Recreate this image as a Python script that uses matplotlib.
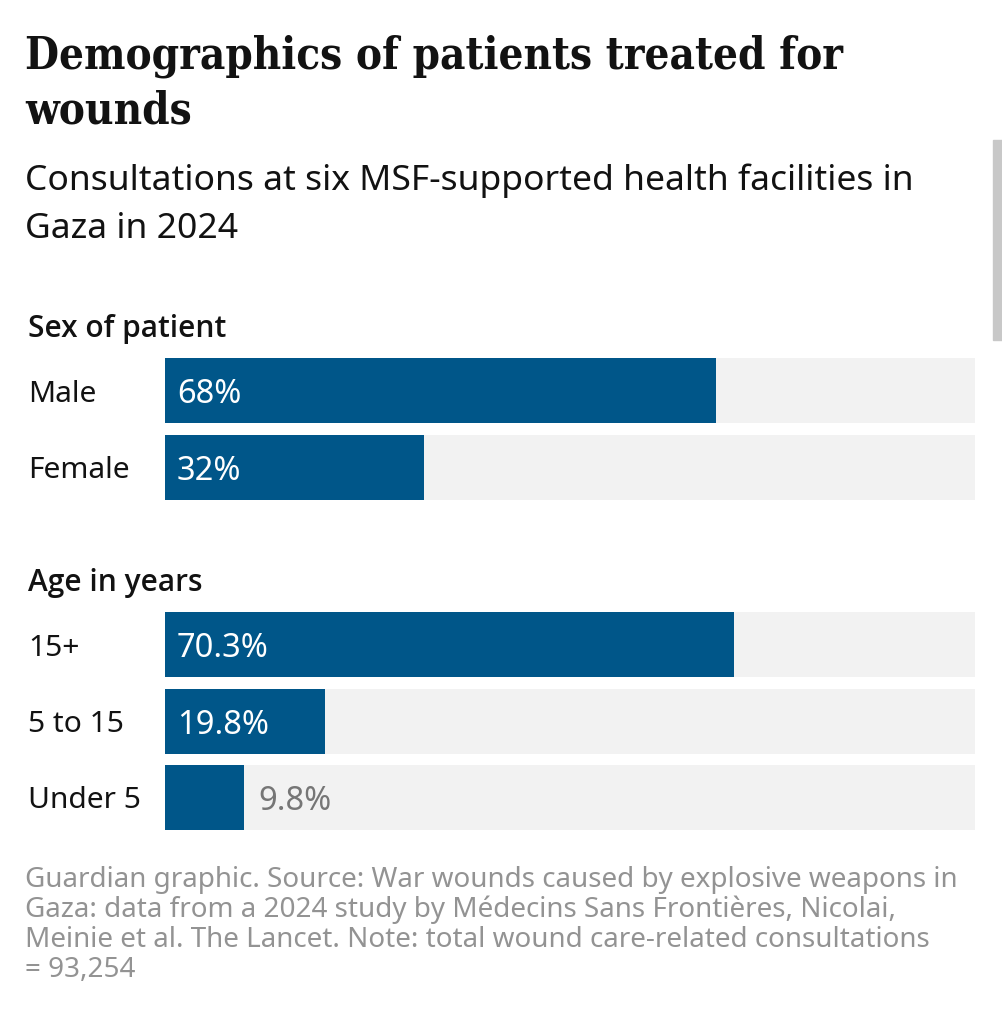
import matplotlib
matplotlib.use("Agg")
import matplotlib.pyplot as plt
from matplotlib.patches import Rectangle

title_lines = ["Demographics of patients treated for", "wounds"]
subtitle_lines = ["Consultations at six MSF-supported health facilities in",
                  "Gaza in 2024"]
footer_lines = [
    "Guardian graphic. Source: War wounds caused by explosive weapons in",
    "Gaza: data from a 2024 study by Médecins Sans Frontières, Nicolai,",
    "Meinie et al. The Lancet. Note: total wound care-related consultations",
    "= 93,254",
]

sex_title = "Sex of patient"
sex_labels = ["Male", "Female"]
sex_values = [68, 32]
sex_text = ["68%", "32%"]

age_title = "Age in years"
age_labels = ["15+", "5 to 15", "Under 5"]
age_values = [70.3, 19.8, 9.8]
age_text = ["70.3%", "19.8%", "9.8%"]

BLUE = "#005689"
TRACK = "#f2f2f2"
INK = "#121212"
GREY = "#939393"

W, H = 1003, 1024
fig = plt.figure(figsize=(W / 100, H / 100), dpi=100)
fig.patch.set_facecolor("white")
renderer = fig.canvas.get_renderer()


def fx(x):
    return x / W


def fy(y):
    return 1 - y / H


def fit_size(s, width, **kw):
    # font size that makes s about `width` pixels wide
    t = fig.text(0, 0, s, fontsize=20, **kw)
    w = t.get_window_extent(renderer).width
    t.remove()
    return 20 * width / w


serif = dict(family="DejaVu Serif", weight="bold", stretch="condensed")
sans = dict(family="Noto Sans")
sans_b = dict(family="Open Sans", weight="semibold")

title_fs = fit_size(title_lines[0], 818, **serif)
sub_fs = fit_size(subtitle_lines[0], 888, **sans)
foot_fs = fit_size(footer_lines[0], 933, **sans)
head_fs = fit_size(sex_title, 198, **sans_b)
lab_fs = fit_size("Female", 102, **sans)
val_fs = fit_size("70.3%", 92, **sans)

for s, y in zip(title_lines, [68, 123]):
    fig.text(fx(25), fy(y), s, fontsize=title_fs, color=INK, va="baseline", **serif)
for s, y in zip(subtitle_lines, [190, 238]):
    fig.text(fx(25), fy(y), s, fontsize=sub_fs, color=INK, va="baseline", **sans)
for s, y in zip(footer_lines, [887, 917, 947, 977]):
    fig.text(fx(25), fy(y), s, fontsize=foot_fs, color=GREY, va="baseline", **sans)


def bar_block(top, title, labels, values, texts):
    pitch, h = 76.5, 65
    n = len(values)
    hd = h / pitch
    bottom = top + (n - 1) * pitch + h
    ax = fig.add_axes([fx(165), fy(bottom), fx(975) - fx(165), (bottom - top) / H])
    ys = list(range(n))
    ax.barh(ys, [100] * n, height=hd, color=TRACK, linewidth=0)
    ax.barh(ys, values, height=hd, color=BLUE, linewidth=0)
    ax.set_xlim(0, 100)
    ax.set_ylim(n - 1 + hd / 2, -hd / 2)
    ax.axis("off")
    for y, lab, v, t in zip(ys, labels, values, texts):
        ax.annotate(lab, xy=(0, y), xycoords=("axes fraction", "data"),
                    xytext=(28 - 165, 0), textcoords="offset pixels",
                    ha="left", va="center_baseline", fontsize=lab_fs,
                    color=INK, **sans)
        if v > 15:
            ax.annotate(t, xy=(0, y), xytext=(12, 0), textcoords="offset pixels",
                        ha="left", va="center_baseline", fontsize=val_fs,
                        color="white", **sans)
        else:
            ax.annotate(t, xy=(v, y), xytext=(14, 0), textcoords="offset pixels",
                        ha="left", va="center_baseline", fontsize=val_fs,
                        color="#767676", **sans)
    fig.text(fx(28), fy(top - 21), title, fontsize=head_fs, color=INK,
             va="baseline", **sans_b)


bar_block(358, sex_title, sex_labels, sex_values, sex_text)
bar_block(612, age_title, age_labels, age_values, age_text)

# scrollbar of the screenshot
fig.patches.append(Rectangle((fx(993), fy(340)), fx(10), 200 / H,
                             transform=fig.transFigure, color="#c8c8c8"))

fig.savefig("out.png", dpi=100)
